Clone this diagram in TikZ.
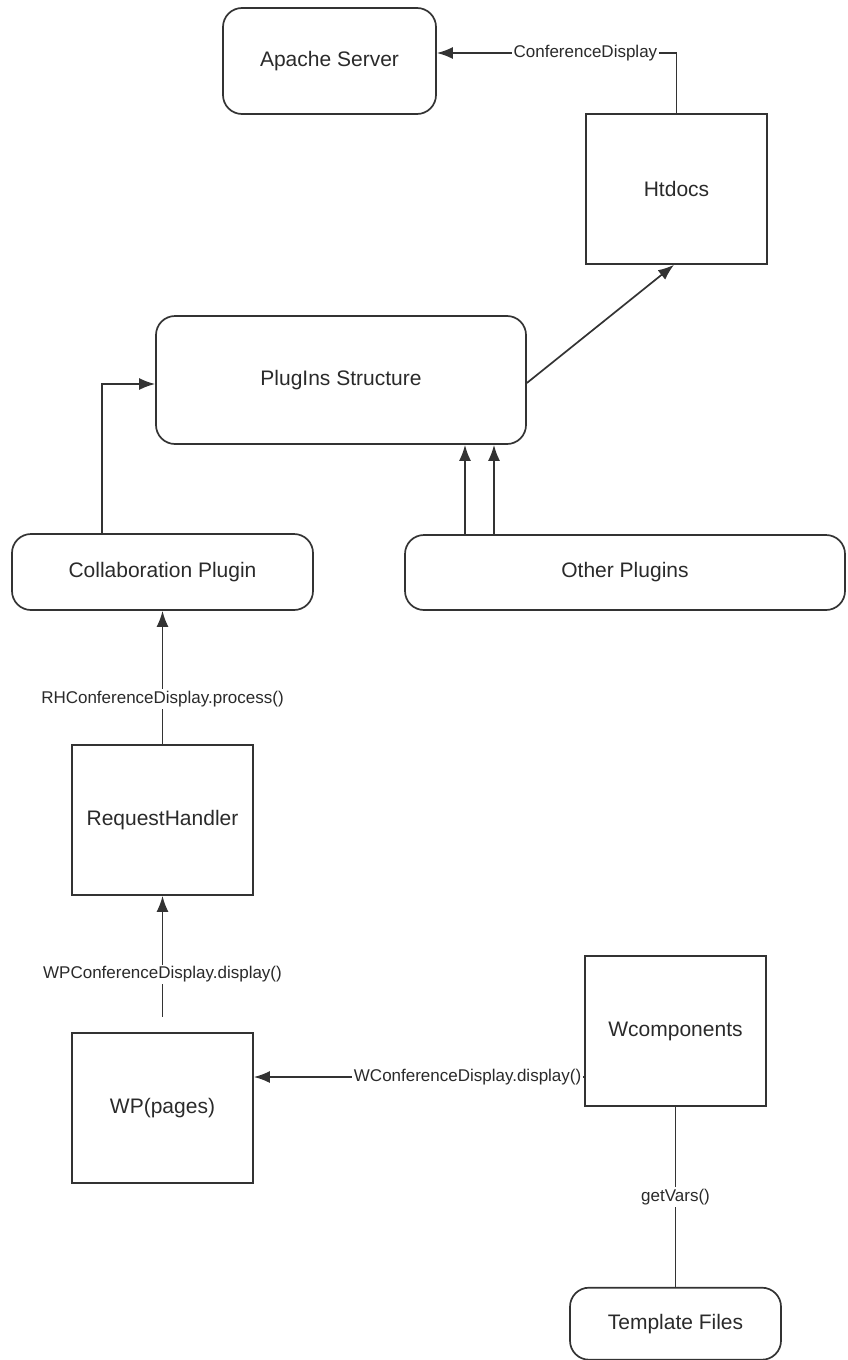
\documentclass[tikz,border=0pt]{standalone}
\usepackage{fontspec}
\setmainfont{Liberation Sans}
\usepackage{tikz}
\usetikzlibrary{positioning, arrows.meta}

\definecolor{linegray}{HTML}{333333}
\definecolor{textgray}{HTML}{2A2A2A}

\begin{document}
\begin{tikzpicture}[
        x=0.5pt, y=-0.5pt,
        Square/.style={rectangle, draw=linegray, line width=0.85pt, minimum width=90.5pt, minimum height=75pt, align=center, text=textgray, font=\fontsize{10.5}{12}\selectfont},
        Rounded/.style={rectangle, rounded corners=9.5pt, draw=linegray, line width=0.85pt, align=center, text=textgray, font=\fontsize{10.5}{12}\selectfont},
        Call/.style={fill=white, inner sep=1pt, text=textgray, font=\fontsize{8.5}{10}\selectfont},
        Link/.style={draw=linegray, line width=0.85pt, -{Latex[length=8pt, width=6pt]}},
        Line/.style={draw=linegray, line width=0.85pt}
    ]

    \useasboundingbox (0,0) rectangle (847,1360);

    % Draw the server side
    \node (apache) [Rounded, minimum width=106.5pt, minimum height=53pt] at (329.5,61) {Apache Server};
    \node (htdocs) [Square] at (676.5,189) {Htdocs};

    % Draw the plugin structure and the plugins
    \node (plugins) [Rounded, minimum width=185pt, minimum height=64pt] at (341,380) {PlugIns Structure};
    \node (collab) [Rounded, minimum width=150.5pt, minimum height=38pt] at (162.5,572) {Collaboration Plugin};
    \node (other) [Rounded, minimum width=220pt, minimum height=37.5pt] at (625,572.5) {Other Plugins};

    % Draw the request chain
    \node (rh) [Square] at (162.5,820) {RequestHandler};
    \node (wp) [Square, below=68pt of rh] {WP(pages)};
    \node (wcomp) [Square] at (675.5,1031) {Wcomponents};
    \node (template) [Rounded, below=90pt of wcomp, minimum width=105.5pt, minimum height=36pt] {Template Files};

    % Free ends of two connectors
    \coordinate (wpstub) at ([yshift=7.5pt]wp.north);
    \coordinate (wcall) at ([yshift=-23pt]wcomp.west);

    % Connections at the top
    \draw[Link] (htdocs.north) |- node[Call, pos=0.69] {ConferenceDisplay} ([yshift=4pt]apache.east);
    \draw[Link] ([yshift=-1.5pt]plugins.east) -- ([xshift=-1.25pt]htdocs.south);
    \draw[Link] ([xshift=45.5pt]collab.north west) |- ([yshift=-2pt]plugins.west);
    \foreach \ax in {465,494}
        \draw[Link] (other.north -| \ax,0) -- (plugins.south -| \ax,0);

    % Connections of the request chain
    \draw[Link] (rh) -- node[Call, pos=0.34] {RHConferenceDisplay.process()} (collab);
    \draw[Link] (wpstub) -- node[Call, pos=0.35] {WPConferenceDisplay.display()} (rh.south);
    \draw[Link] (wcall) -- node[Call, pos=0, anchor=east] {WConferenceDisplay.display()} (wp.east |- wcall);
    \draw[Line] (wcomp) -- node[Call] {getVars()} (template);

\end{tikzpicture}
\end{document}
